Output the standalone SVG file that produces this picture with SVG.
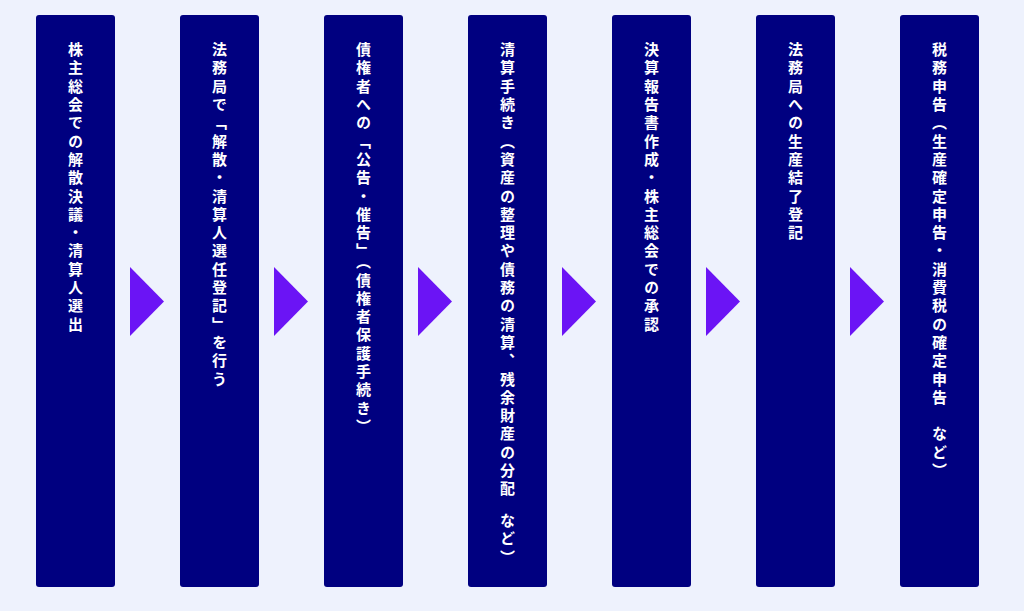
<svg xmlns="http://www.w3.org/2000/svg" width="1024" height="611" viewBox="0 0 1024 611">
<style>
.col{fill:#000080}
.arr{fill:#6b14f5}
.t{fill:#ffffff;font-family:"Noto Sans CJK JP","Noto Sans",sans-serif;font-size:15px;font-weight:700;letter-spacing:3.3px;writing-mode:vertical-rl;text-orientation:mixed;white-space:pre}
</style>
<rect width="1024" height="611" fill="#eef2fd"/>
<g id="connectors">
<polygon class="arr" points="130,267 164,301.5 130,336"/>
<polygon class="arr" points="274,267 308,301.5 274,336"/>
<polygon class="arr" points="418,267 452,301.5 418,336"/>
<polygon class="arr" points="562,267 596,301.5 562,336"/>
<polygon class="arr" points="706,267 740,301.5 706,336"/>
<polygon class="arr" points="850,267 884,301.5 850,336"/>
</g>
<g id="step1"><rect class="col" x="36" y="15" width="79" height="572" rx="3"/><text class="t" x="75.5" y="42">株主総会での解散決議・清算人選出</text></g>
<g id="step2"><rect class="col" x="180" y="15" width="79" height="572" rx="3"/><text class="t" x="219.5" y="42">法務局で「解散・清算人選任登記」を行う</text></g>
<g id="step3"><rect class="col" x="324" y="15" width="79" height="572" rx="3"/><text class="t" x="363.5" y="42">債権者への「公告・催告」（債権者保護手続き）</text></g>
<g id="step4"><rect class="col" x="468" y="15" width="79" height="572" rx="3"/><text class="t" x="507.5" y="42">清算手続き（資産の整理や債務の清算、残余財産の分配&#160;&#160;など）</text></g>
<g id="step5"><rect class="col" x="612" y="15" width="79" height="572" rx="3"/><text class="t" x="651.5" y="42">決算報告書作成・株主総会での承認</text></g>
<g id="step6"><rect class="col" x="756" y="15" width="79" height="572" rx="3"/><text class="t" x="795.5" y="42">法務局への生産結了登記</text></g>
<g id="step7"><rect class="col" x="900" y="15" width="79" height="572" rx="3"/><text class="t" x="939.5" y="42">税務申告（生産確定申告・消費税の確定申告　など）</text></g>
</svg>
